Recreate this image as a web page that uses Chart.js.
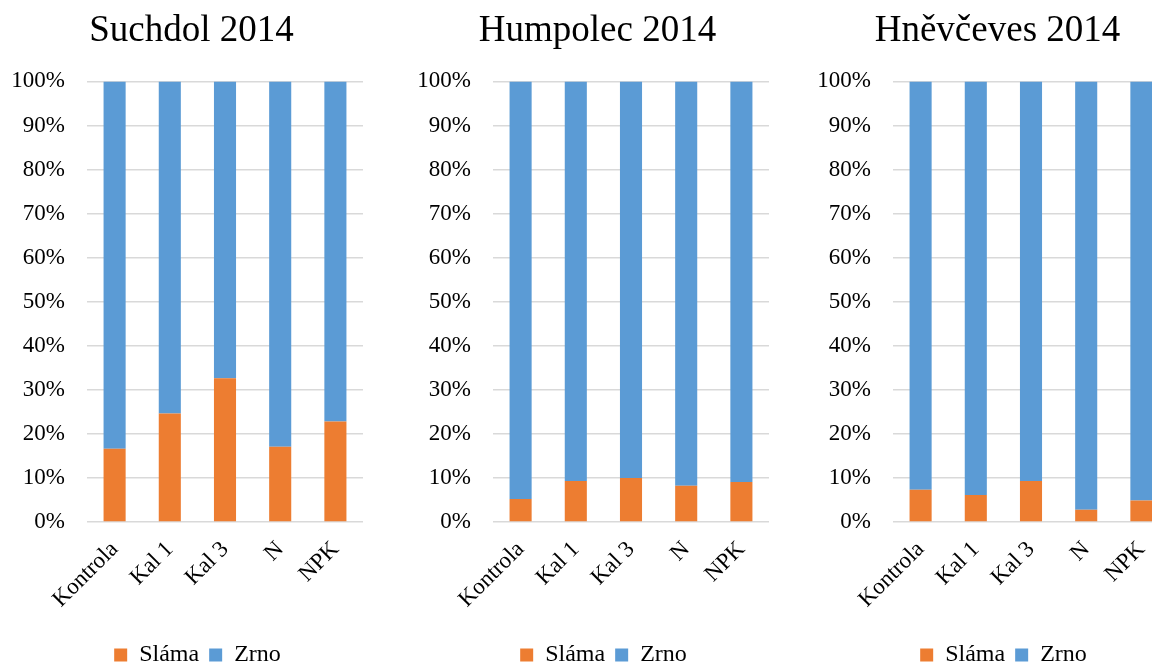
<!DOCTYPE html>
<html>
<head>
<meta charset="utf-8">
<script src="https://cdn.jsdelivr.net/npm/chart.js@4"></script>
<style>
  html, body { margin: 0; padding: 0; background: #fff; overflow: hidden; }
  #wrap { position: relative; width: 1152px; height: 665px; overflow: hidden; }
  .box { position: absolute; top: 0; width: 384px; height: 665px; }
</style>
</head>
<body>
<div id="wrap">
  <div class="box" style="left:0px"><canvas id="chart1"></canvas></div>
  <div class="box" style="left:406px"><canvas id="chart2"></canvas></div>
  <div class="box" style="left:806px"><canvas id="chart3"></canvas></div>
</div>
<script>
const categories = ['Kontrola', 'Kal 1', 'Kal 3', 'N', 'NPK'];
const yTicks = [0, 10, 20, 30, 40, 50, 60, 70, 80, 90, 100];

// podíl slámy a zrna v % pro každou lokalitu
const suchdolSlama = [16.6, 24.6, 32.6, 17.1, 22.8];
const suchdolZrno = [83.4, 75.4, 67.4, 82.9, 77.2];
const humpolecSlama = [5.2, 9.3, 10.0, 8.2, 9.1];
const humpolecZrno = [94.8, 90.7, 90.0, 91.8, 90.9];
const hnevcevesSlama = [7.3, 6.1, 9.3, 2.8, 4.9];
const hnevcevesZrno = [92.7, 93.9, 90.7, 97.2, 95.1];

const fontFamily = "'Liberation Serif', 'Times New Roman', serif";

// posune nadpis a legendu o kousek doprava, legendu i dolů
const blockShift = {
  id: 'blockShift',
  afterLayout(chart) {
    const lg = chart.legend;
    lg.left += 16;
    lg.right += 16;
    lg.top += 12;
    lg.bottom += 12;
    const tb = chart.titleBlock;
    tb.left += 10;
    tb.right += 10;
  },
};

function createChart(id, title, slama, zrno) {
  const ctx = document.getElementById(id);
  ctx.width = 384;
  ctx.height = 665;
  new Chart(ctx, {
    type: 'bar',
    data: {
      labels: categories,
      datasets: [
        {
          label: 'Sláma',
          data: slama,
          backgroundColor: '#ED7D31',
          categoryPercentage: 0.8,
          barPercentage: 0.5,
        },
        {
          label: 'Zrno',
          data: zrno,
          backgroundColor: '#5B9BD5',
          categoryPercentage: 0.8,
          barPercentage: 0.5,
        },
      ],
    },
    plugins: [blockShift],
    options: {
      responsive: false,
      animation: false,
      layout: {
        padding: { left: 0, right: 21, top: 0, bottom: 0 },
      },
      scales: {
        x: {
          stacked: true,
          grid: {
            display: false,
          },
          border: {
            display: false,
          },
          ticks: {
            color: '#000',
            minRotation: 45,
            maxRotation: 45,
            padding: 6,
            font: { size: 23, family: fontFamily },
          },
          afterFit: scale => {
            scale.height = 99;
          },
        },
        y: {
          stacked: true,
          min: 0,
          max: 100,
          afterBuildTicks: scale => {
            scale.ticks = yTicks.map(v => ({ value: v }));
          },
          grid: {
            color: '#d9d9d9',
            lineWidth: 1.5,
            drawTicks: false,
          },
          border: {
            display: false,
          },
          ticks: {
            color: '#000',
            padding: 22,
            font: { size: 23, family: fontFamily },
            callback: v => v + '%',
          },
          afterFit: scale => {
            scale.width = 87;
          },
        },
      },
      plugins: {
        title: {
          display: true,
          text: title,
          color: '#000',
          font: { size: 37, family: fontFamily, weight: 'normal' },
          padding: { top: 9, bottom: 28 },
        },
        legend: {
          position: 'bottom',
          labels: {
            color: '#000',
            boxWidth: 13,
            boxHeight: 13,
            padding: 10,
            font: { size: 24, family: fontFamily },
          },
        },
        tooltip: { enabled: false },
      },
    },
  });
}

createChart('chart1', 'Suchdol 2014', suchdolSlama, suchdolZrno);
createChart('chart2', 'Humpolec 2014', humpolecSlama, humpolecZrno);
createChart('chart3', 'Hněvčeves 2014', hnevcevesSlama, hnevcevesZrno);
</script>
</body>
</html>
